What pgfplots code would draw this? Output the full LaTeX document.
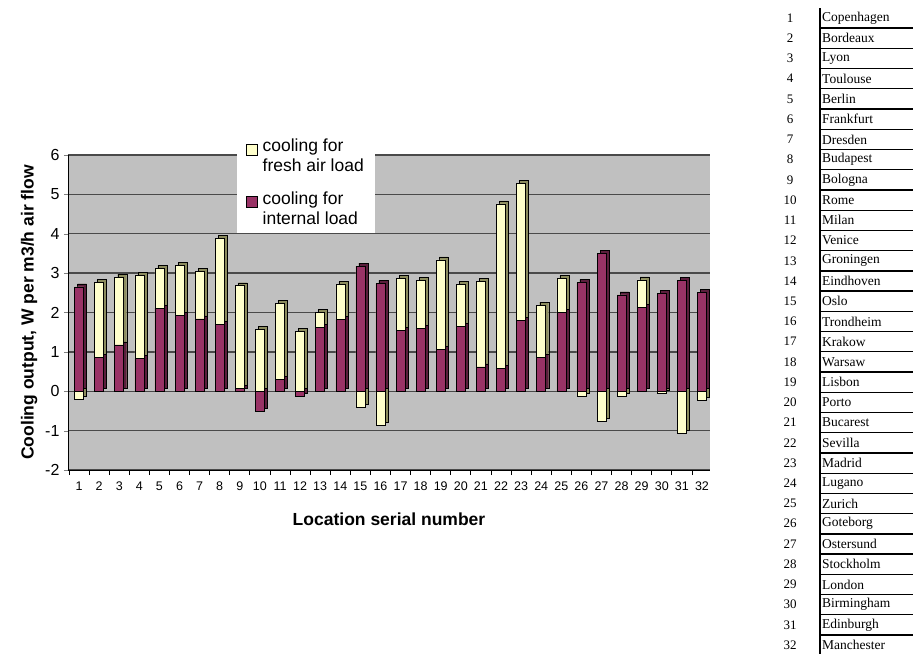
\documentclass[border=0pt]{standalone}
\usepackage{pgfplots}
\pgfplotsset{compat=1.18}
\usepackage{pgfplotstable}
\usepackage{fontspec}
\setmainfont{Liberation Sans}
\newfontfamily\tabfont{Liberation Serif}
\definecolor{plum}{HTML}{993366}
\definecolor{plumside}{HTML}{5A1E3C}
\definecolor{cream}{HTML}{FFFFCC}
\definecolor{creamside}{HTML}{8C8C5E}
\definecolor{wall}{HTML}{C0C0C0}
\definecolor{gridc}{HTML}{4A4A4A}

\pgfplotstableread{
loc int fresh
1 2.65 -0.21
2 0.87 1.90
3 1.18 1.72
4 0.83 2.12
5 2.11 1.01
6 1.92 1.28
7 1.84 1.20
8 1.70 2.18
9 0.08 2.60
10 -0.51 1.58
11 0.30 1.93
12 -0.13 1.52
13 1.63 0.38
14 1.82 0.89
15 3.18 -0.40
16 2.74 -0.87
17 1.54 1.32
18 1.60 1.22
19 1.06 2.28
20 1.64 1.08
21 0.62 2.18
22 0.58 4.18
23 1.80 3.48
24 0.86 1.33
25 2.01 0.85
26 2.76 -0.13
27 3.50 -0.75
28 2.45 -0.12
29 2.13 0.70
30 2.48 -0.05
31 2.82 -1.06
32 2.52 -0.23
}\datatable

\begin{document}
\begin{tikzpicture}
\useasboundingbox (0pt,0pt) rectangle (913pt,-654pt);
\begin{axis}[
  at={(68pt,-470pt)}, anchor=south west,
  scale only axis, width=642pt, height=315pt,
  xmin=0.45, xmax=32.4, ymin=-2, ymax=6,
  ytick={-2,...,6},
  xtick={1,...,32},
  minor xtick={0.5,1.5,...,32.5},
  major x tick style={draw=none},
  minor x tick style={black, line width=0.8pt},
  minor tick length=5pt,
  major tick length=4pt,
  tick align=outside,
  axis x line*=bottom, axis y line*=left,
  axis line style={black, line width=0.8pt},
  ymajorgrids, grid style={gridc, line width=1.3pt},
  axis background/.style={fill=wall},
  /pgf/number format/assume math mode=true,
  yticklabel style={font=\fontsize{16}{16}\selectfont, xshift=-1pt},
  xticklabel style={font=\fontsize{12.5}{12.5}\selectfont, yshift=-4pt},
  xlabel={Location serial number},
  ylabel={Cooling output, W per m3/h air flow},
  xlabel style={font=\bfseries\fontsize{17.5}{17.5}\selectfont, yshift=-16pt},
  ylabel style={font=\bfseries\fontsize{17.5}{17.5}\selectfont, yshift=1pt},
  ybar, bar width=9pt, bar shift=0pt,
  unbounded coords=discard,
  legend cell align=left,
  legend style={at={(0.263,1.073)}, anchor=north west, draw=none, fill=white,
    font=\fontsize{17.5}{20}\selectfont, cells={align=left},
    /tikz/column sep=3pt,
    inner xsep=9pt, inner ysep=5pt, row sep=14pt},
  legend image code/.code={\draw[#1, line width=0.6pt] (2pt,1pt) rectangle (13pt,12pt);},
  nozero/.style={y filter/.expression={abs(y)<0.001 ? nan : y}},
]
\addlegendimage{fill=cream, draw=black}
\addlegendentry{cooling for\\fresh air load}
\addlegendimage{fill=plum, draw=black}
\addlegendentry{cooling for\\internal load}
% side shadows (3D depth)
\addplot[fill=creamside, draw=black, line width=0.4pt, xshift=3pt, yshift=3pt, forget plot, nozero]
  table[x=loc, y expr={max(\thisrow{int},0)+max(\thisrow{fresh},0)}] {\datatable};
\addplot[fill=plumside, draw=black, line width=0.4pt, xshift=3pt, yshift=3pt, forget plot, nozero]
  table[x=loc, y expr={max(\thisrow{int},0)}] {\datatable};
\addplot[fill=plumside, draw=black, line width=0.4pt, xshift=3pt, yshift=3pt, forget plot, nozero]
  table[x=loc, y expr={min(\thisrow{int},0)}] {\datatable};
\addplot[fill=creamside, draw=black, line width=0.4pt, xshift=3pt, yshift=3pt, forget plot, nozero]
  table[x=loc, y expr={min(\thisrow{fresh},0)}] {\datatable};
% front faces
\addplot[fill=cream, draw=black, line width=0.5pt, forget plot, nozero]
  table[x=loc, y expr={max(\thisrow{int},0)+max(\thisrow{fresh},0)}] {\datatable};
\addplot[fill=plum, draw=black, line width=0.5pt, forget plot, nozero]
  table[x=loc, y expr={max(\thisrow{int},0)}] {\datatable};
\addplot[fill=plum, draw=black, line width=0.5pt, forget plot, nozero]
  table[x=loc, y expr={min(\thisrow{int},0)}] {\datatable};
\addplot[fill=cream, draw=black, line width=0.5pt, forget plot, nozero]
  table[x=loc, y expr={min(\thisrow{fresh},0)}] {\datatable};
\end{axis}
% location table
\draw[line width=1.2pt] (820pt,-8pt) -- (820pt,-654pt);
\foreach \name [count=\i] in {Copenhagen,Bordeaux,Lyon,Toulouse,Berlin,Frankfurt,Dresden,Budapest,Bologna,Rome,Milan,Venice,Groningen,Eindhoven,Oslo,Trondheim,Krakow,Warsaw,Lisbon,Porto,Bucarest,Sevilla,Madrid,Lugano,Zurich,Goteborg,Ostersund,Stockholm,London,Birmingham,Edinburgh,Manchester} {
  \pgfmathsetmacro{\yy}{-18-(\i-1)*20.23}
  \node[font=\tabfont\fontsize{13.5}{13.5}\selectfont, anchor=west, inner sep=0pt] at (822pt,\yy pt) {\name};
  \node[font=\tabfont\fontsize{13}{13}\selectfont, inner sep=0pt] at (790pt,\yy pt) {\i};
  \draw[line width=1.3pt] (820pt,\yy pt-10.1pt) -- (913pt,\yy pt-10.1pt);
}
\end{tikzpicture}
\end{document}
